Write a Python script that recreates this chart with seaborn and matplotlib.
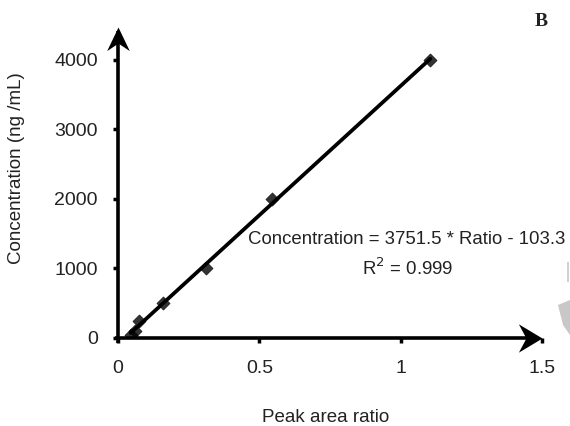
import matplotlib
matplotlib.use("Agg")
import matplotlib.pyplot as plt
import seaborn as sns
import pandas as pd
from matplotlib.patches import Polygon
from matplotlib.path import Path

ratio = [0.045, 0.06, 0.075, 0.16, 0.31, 0.545, 1.105]
conc = [50, 100, 250, 500, 1000, 2000, 4000]
xticks = [0, 0.5, 1, 1.5]
yticks = [0, 1000, 2000, 3000, 4000]

sns.set_theme(style="white")
plt.rcParams['font.family'] = ['Liberation Sans', 'DejaVu Sans']

df = pd.DataFrame({"ratio": ratio, "conc": conc})

fig = plt.figure(figsize=(5.7, 4.26), dpi=100)
ax = fig.add_axes([118/570, 88/426, (542-118)/570, (398-88)/426])

sns.regplot(data=df, x="ratio", y="conc", ax=ax, ci=None, truncate=True,
            marker="D", color="black",
            scatter_kws={"s": 45, "edgecolor": "black", "linewidths": 0.5, "zorder": 4},
            line_kws={"linewidth": 2.7})

ax.set_xlim(0, 1.5)
ax.set_ylim(0, 4460)
ax.set_xticks(xticks)
ax.set_xticklabels(["0", "0.5", "1", "1.5"])
ax.set_yticks(yticks)
ax.set_yticklabels([str(v) for v in yticks])
ax.tick_params(axis="both", labelsize=14, colors="black", length=3.5, width=2.5,
               direction="out", bottom=True, left=True)
ax.tick_params(axis="y", pad=11)
ax.tick_params(axis="x", pad=12)
for lab in ax.get_xticklabels() + ax.get_yticklabels():
    lab.set_color("#222222")

for s in ["top", "right", "left", "bottom"]:
    ax.spines[s].set_visible(False)

# axis lines with stealth arrow heads
ax.plot([-0.012, 1.48], [0, 0], color="black", lw=2.6, clip_on=False,
        solid_capstyle="butt", zorder=3)
ax.plot([0, 0], [-75, 4420], color="black", lw=2.6, clip_on=False,
        solid_capstyle="butt", zorder=3)
head_r = Path([(0, 0), (-1, 0.6), (-0.68, 0), (-1, -0.6), (0, 0)],
              [Path.MOVETO, Path.LINETO, Path.LINETO, Path.LINETO, Path.CLOSEPOLY])
head_u = Path([(0, 0), (0.48, -1), (0, -0.68), (-0.48, -1), (0, 0)],
              [Path.MOVETO, Path.LINETO, Path.LINETO, Path.LINETO, Path.CLOSEPOLY])
ax.plot([1.5], [0], marker=head_r, markersize=34, color="black",
        markeredgewidth=0, clip_on=False, zorder=3)
ax.plot([0], [4470], marker=head_u, markersize=34, color="black",
        markeredgewidth=0, clip_on=False, zorder=3)

ax.set_xlabel("")
ax.set_ylabel("")
fig.text(326/570, 1 - 418/426, "Peak area ratio", fontsize=13.5,
         color="#222222", ha="center", va="center")
fig.text(17/570, 1 - 168/426, "Concentration (ng /mL)", fontsize=13.5,
         color="#222222", ha="center", va="center", rotation=90)

fig.text(248/570, 1 - 240/426, "Concentration = 3751.5 * Ratio - 103.3",
         fontsize=13.4, color="#222222", ha="left", va="center")
fig.text(408/570, 1 - 268/426, "R$^2$ = 0.999", fontsize=13.4,
         color="#222222", ha="center", va="center")
fig.text(541/570, 1 - 22/426, "B", fontsize=14, fontweight="bold",
         family="Liberation Serif", color="#222222", ha="center", va="center")

# gray artifact at right edge
fig.patches.append(Polygon([(558/570, 1 - 305/426), (570/570, 1 - 300/426),
                            (570/570, 1 - 335/426), (563/570, 1 - 325/426)],
                           closed=True, transform=fig.transFigure,
                           facecolor="#c8c8c8", edgecolor="none"))
fig.patches.append(Polygon([(567/570, 1 - 262/426), (569/570, 1 - 262/426),
                            (569/570, 1 - 282/426), (567/570, 1 - 282/426)],
                           closed=True, transform=fig.transFigure,
                           facecolor="#d0d0d0", edgecolor="none"))

fig.savefig("out.png", dpi=100)
